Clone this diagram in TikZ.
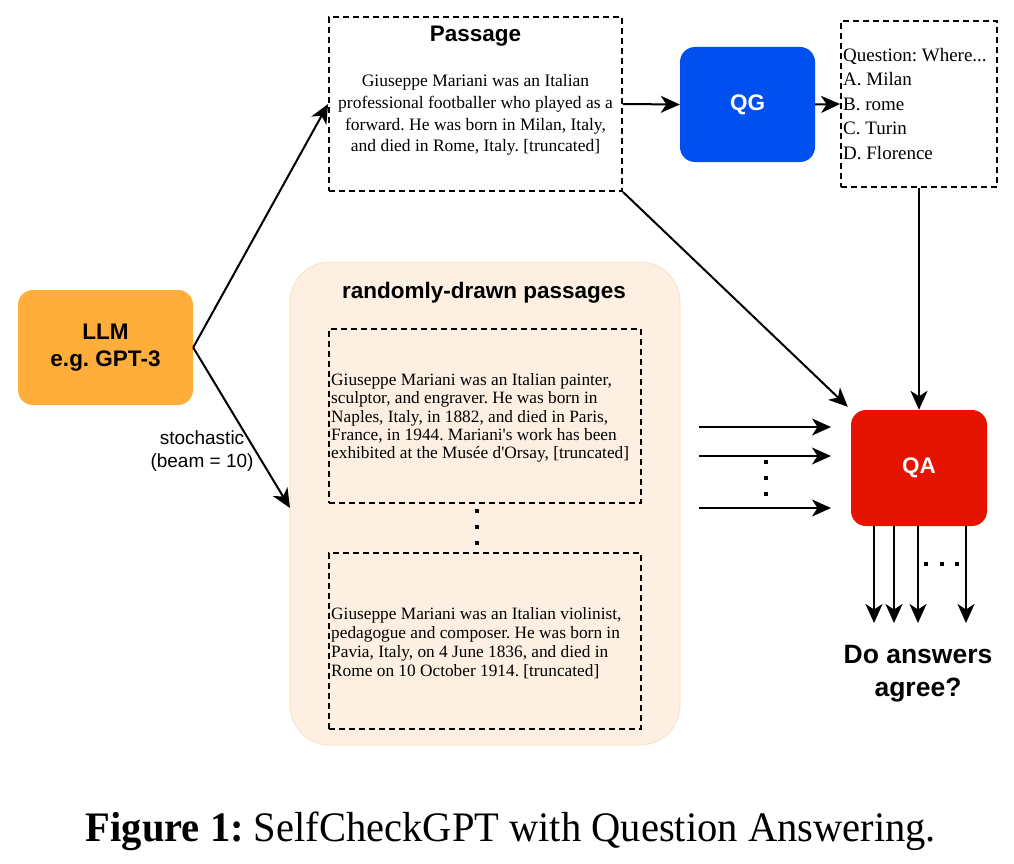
\documentclass[tikz,border=0pt]{standalone}
\usepackage{fontspec}
\setmainfont{Liberation Serif}[Ligatures=TeXOff]
\setsansfont{Liberation Sans}
\usetikzlibrary{arrows.meta,calc}
\definecolor{qgblue}{HTML}{0050EF}
\definecolor{qared}{HTML}{E51400}
\definecolor{llmorange}{HTML}{FFAD3B}
\definecolor{peachfill}{HTML}{FDF0E2}
\definecolor{peachdraw}{HTML}{F9E4CF}
\tikzset{
  dashbox/.style={draw=black, line width=1.8pt, dash pattern=on 6pt off 4pt, minimum width=#1},
  solidbox/.style={rounded corners=15pt, minimum width=#1, draw=none},
  arr/.style={line width=2pt, -{Stealth[length=19pt,width=17pt,inset=5.5pt]}},
  titletext/.style={font=\sffamily\bfseries\fontsize{22.5}{27}\selectfont},
  dotsq/.style={fill=black, minimum size=4.5pt, inner sep=0pt},
}
\begin{document}
\frenchspacing
\begin{tikzpicture}[x=1pt,y=-1pt]
\useasboundingbox (0,0) rectangle (1014,864);
\fill[white] (0,0) rectangle (1014,864);

% random container
\node[draw=peachdraw, line width=1pt, fill=peachfill, rounded corners=40pt, minimum width=390pt, minimum height=483pt] (rand) at (485,503.5) {};
\node[titletext] (randtitle) at (484,293) {randomly-drawn passages};

% Passage box
\node[dashbox=293pt, minimum height=174pt] (passage) at (475.5,104) {};
\node[titletext] (passtitle) at (475.5,36) {Passage};
\node[align=center, font=\fontsize{17.5}{21.7}\selectfont] (passtext) at (475.5,115)
  {Giuseppe Mariani was an Italian\\professional footballer who played as a\\forward. He was born in Milan, Italy,\\and died in Rome, Italy. [truncated]};

% QG
\node[solidbox=135pt, minimum height=115pt, fill=qgblue, text=white, titletext] (qg) at (747.5,104.5) {QG};

% Question box
\node[dashbox=156pt, minimum height=166pt] (question) at (919,104) {};
\node[anchor=west, align=left, inner sep=0pt, font=\fontsize{19}{24.5}\selectfont] (qtext) at (843,104)
  {Question: Where...\\A. Milan\\B. rome\\C. Turin\\D. Florence};

% LLM
\node[solidbox=175pt, minimum height=115pt, fill=llmorange, align=center, font=\sffamily\bfseries\fontsize{22.5}{27}\selectfont] (llm) at (105.5,347.5) {LLM\\e.g. GPT-3};

% inner passages
\node[dashbox=312pt, minimum height=174pt] (inner1) at (485,416) {};
\node[anchor=west, align=left, inner sep=0pt, font=\fontsize{17.3}{18.2}\selectfont] (in1text) at (331,418)
  {Giuseppe Mariani was an Italian painter,\\sculptor, and engraver. He was born in\\Naples, Italy, in 1882, and died in Paris,\\France, in 1944. Mariani's work has been\\exhibited at the Musée d'Orsay, [truncated]};
\node[dashbox=312pt, minimum height=176pt] (inner2) at (485,641) {};
\node[anchor=west, align=left, inner sep=0pt, font=\fontsize{17.3}{19}\selectfont] (in2text) at (331,643.5)
  {Giuseppe Mariani was an Italian violinist,\\pedagogue and composer. He was born in\\Pavia, Italy, on 4 June 1836, and died in\\Rome on 10 October 1914. [truncated]};

% dots between inner boxes
\node[dotsq] (d1) at (477,511) {};
\node[dotsq] (d2) at (477,527) {};
\node[dotsq] (d3) at (477,543) {};

% QA
\node[solidbox=136pt, minimum height=116pt, fill=qared, text=white, titletext] (qa) at (919,468) {QA};

% stochastic label
\node[align=center, font=\sffamily\fontsize{19}{23}\selectfont] (stoch) at (202,451.5) {stochastic\\(beam = 10)};

% Do answers agree
\node[align=center, font=\sffamily\bfseries\fontsize{26.5}{33}\selectfont] (agree) at (918,673.5) {Do answers\\agree?};

% arrows
\draw[arr] (llm.east) -- (passage.west);
\coordinate (randin) at (290,508);
\draw[arr] (llm.east) -- (randin);
\draw[arr] (passage.east) -- (qg.west);
\draw[arr] (qg.east) -- (question.west);
\draw[arr] (question.south) -- (qa.north);
\draw[arr] (passage.south east) -- ($(qa.north west)+(-3,-3)$);

\coordinate (s1) at (699,427); \coordinate (e1) at (831,427);
\coordinate (s2) at (699,456); \coordinate (e2) at (831,456);
\coordinate (s3) at (699,508); \coordinate (e3) at (831,508);
\draw[arr] (s1) -- (e1);
\draw[arr] (s2) -- (e2);
\draw[arr] (s3) -- (e3);
\node[dotsq] (v1) at (766,462) {};
\node[dotsq] (v2) at (766,478) {};
\node[dotsq] (v3) at (766,494) {};

\coordinate (o1) at (874,623); \coordinate (o2) at (894,623);
\coordinate (o3) at (918,623); \coordinate (o4) at (966,623);
\draw[arr] (qa.south -| o1) -- (o1);
\draw[arr] (qa.south -| o2) -- (o2);
\draw[arr] (qa.south -| o3) -- (o3);
\draw[arr] (qa.south -| o4) -- (o4);
\node[dotsq] (h1) at (926,564) {};
\node[dotsq] (h2) at (942,564) {};
\node[dotsq] (h3) at (957,564) {};

% caption
\node[anchor=base, inner sep=0pt, font=\fontsize{42}{48}\selectfont] (caption) at (511,841)
  {\scalebox{0.965}[1]{\textbf{Figure 1:} SelfCheckGPT with Question Answering.}};
\end{tikzpicture}
\end{document}
